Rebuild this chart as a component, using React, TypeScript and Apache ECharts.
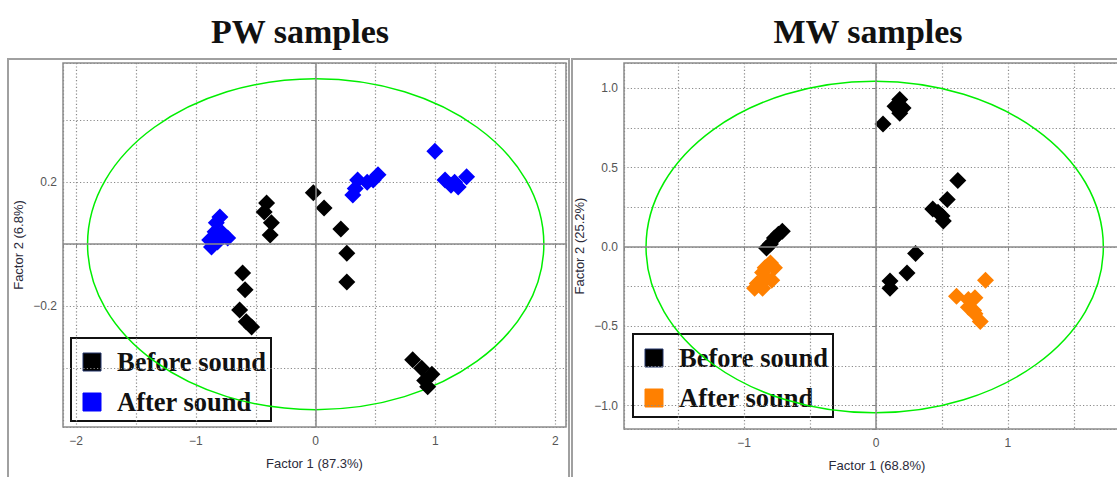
import React, { useEffect, useRef } from "react";
import * as echarts from "echarts";

// ---------- data ----------
const pwTitle = "PW samples";
const mwTitle = "MW samples";
const legendNames = ["Before sound", "After sound"];

const pwXName = "Factor 1 (87.3%)";
const pwYName = "Factor 2 (6.8%)";
const mwXName = "Factor 1 (68.8%)";
const mwYName = "Factor 2 (25.2%)";

const pwBefore: number[][] = [
  [-0.41, 0.133], [-0.43, 0.104], [-0.37, 0.069], [-0.38, 0.03],
  [-0.61, -0.093], [-0.59, -0.147], [-0.635, -0.212], [-0.58, -0.25], [-0.535, -0.267],
  [-0.02, 0.166], [0.07, 0.117], [0.21, 0.049], [0.26, -0.029], [0.26, -0.122],
  [0.81, -0.373], [0.885, -0.4], [0.97, -0.42], [0.91, -0.44], [0.935, -0.46],
];
const pwAfter: number[][] = [
  [-0.8, 0.088], [-0.83, 0.069], [-0.84, 0.04], [-0.78, 0.036], [-0.735, 0.02],
  [-0.87, -0.009], [-0.82, 0.007], [-0.885, 0.014],
  [0.31, 0.159], [0.33, 0.18], [0.35, 0.207], [0.43, 0.2], [0.48, 0.207], [0.52, 0.224],
  [0.995, 0.3], [1.08, 0.207], [1.13, 0.19], [1.16, 0.2], [1.19, 0.185], [1.26, 0.218],
];
const mwBefore: number[][] = [
  [0.18, 0.93], [0.205, 0.876], [0.144, 0.888], [0.18, 0.844], [0.053, 0.775],
  [0.62, 0.42], [0.54, 0.3], [0.43, 0.24], [0.5, 0.195], [0.51, 0.164], [0.47, 0.22],
  [0.3, -0.04], [0.235, -0.164], [0.106, -0.214], [0.106, -0.26],
  [-0.71, 0.1], [-0.74, 0.08], [-0.77, 0.057], [-0.8, 0.019], [-0.83, -0.006],
];
const mwAfter: number[][] = [
  [-0.8, -0.1], [-0.77, -0.13], [-0.84, -0.13], [-0.86, -0.16], [-0.83, -0.2],
  [-0.79, -0.21], [-0.9, -0.23], [-0.92, -0.26], [-0.86, -0.26],
  [0.83, -0.21], [0.61, -0.31], [0.7, -0.33], [0.75, -0.32], [0.7, -0.38],
  [0.74, -0.4], [0.75, -0.42], [0.79, -0.47],
];

// ellipse: [cx, cy, rx, ry]
const pwEllipse: number[][] = [[0, 0, 1.905, 0.534]];
const mwEllipse: number[][] = [[-0.01, 0, 1.733, 1.045]];

// axis extents & tick steps
const pwX = { min: -2.11, max: 2.09, step: 0.5 };
const pwY = { min: -0.59, max: 0.585, step: 0.2 };
const mwX = { min: -1.91, max: 1.925, step: 0.5 };
const mwY = { min: -1.147, max: 1.16, step: 0.25 };
const pwYLabels = [0.2, -0.2];

// ---------- styles ----------
const BLACK = "#000000";
const BLUE = "#0000ff";
const ORANGE = "#ff8000";
const GREEN = "#00ee00";
const SANS = '"Liberation Sans", Arial, sans-serif';
const SERIF = '"Liberation Serif", "Times New Roman", serif';

const minus = (s: string) => s.replace("-", "\u2212");
const isMult = (v: number, m: number) => Math.abs(v / m - Math.round(v / m)) < 1e-6;

function axisBase(ext: { min: number; max: number; step: number }, name: string, gridIndex: number, gap: number, formatter: (v: number) => string, margin: number) {
  return {
    gridIndex,
    type: "value",
    min: ext.min,
    max: ext.max,
    minInterval: ext.step,
    maxInterval: ext.step,
    splitNumber: 8,
    name,
    nameLocation: "middle",
    nameGap: gap,
    nameTextStyle: { color: "#2b2b3a", fontSize: 13, fontFamily: SANS },
    axisLine: { show: false },
    axisTick: { show: true, length: 4, lineStyle: { color: "#888", width: 1 } },
    splitLine: { show: true, lineStyle: { color: "#8a8a8a", width: 1.2, type: [1.2, 2.2] } },
    axisLabel: { color: "#555", fontSize: 12, fontFamily: SANS, margin, formatter },
  };
}

function ellipseSeries(data: number[][], idx: number) {
  return {
    type: "custom",
    xAxisIndex: idx,
    yAxisIndex: idx,
    silent: true,
    z: 1,
    data,
    renderItem: (_p: any, api: any) => {
      const c = api.coord([api.value(0), api.value(1)]);
      const s = api.size([api.value(2), api.value(3)]);
      return {
        type: "ellipse",
        shape: { cx: c[0], cy: c[1], rx: s[0], ry: s[1] },
        style: { fill: "none", stroke: GREEN, lineWidth: 1.5 },
      };
    },
    markLine: {
      silent: true,
      symbol: "none",
      label: { show: false },
      lineStyle: { color: "#8a8a8a", type: "solid", width: 1.5 },
      data: [{ xAxis: 0 }, { yAxis: 0 }],
    },
  };
}

function scatter(name: string, data: number[][], color: string, idx: number) {
  return {
    type: "scatter",
    name,
    xAxisIndex: idx,
    yAxisIndex: idx,
    symbol: "diamond",
    symbolSize: 17,
    z: 3,
    itemStyle: { color, opacity: 1 },
    data,
  };
}

function legendGroup(x: number, y: number, afterColor: string) {
  const rows = [
    { name: legendNames[0], color: BLACK, border: "#23346a" },
    { name: legendNames[1], color: afterColor, border: afterColor },
  ];
  const children: any[] = [
    { type: "rect", shape: { x: 0, y: 0, width: 200, height: 83 }, style: { fill: "#fff", stroke: "#111", lineWidth: 2 } },
  ];
  rows.forEach((r, i) => {
    const cy = 24 + i * 40;
    children.push({
      type: "rect",
      shape: { x: 12, y: cy - 9, width: 18, height: 18 },
      style: { fill: r.color, stroke: r.border, lineWidth: 1 },
    });
    children.push({
      type: "text",
      x: 46,
      y: cy,
      style: { text: r.name, fill: "#111", font: `bold 26.5px ${SERIF}`, textVerticalAlign: "middle", verticalAlign: "middle" },
    });
  });
  return { type: "group", x, y, z: 100, children };
}

const intLabel = (v: number) => (isMult(v, 1) ? minus(String(Math.round(v))) : "");

const option: any = {
  animation: false,
  backgroundColor: "#ffffff",
  grid: [
    { left: 63, top: 63, width: 503, height: 364, show: true, borderColor: "#8c8c8c", borderWidth: 1.5, backgroundColor: "transparent", containLabel: false, outerBoundsMode: "none" },
    { left: 624, top: 63, width: 506, height: 366, show: true, borderColor: "#8c8c8c", borderWidth: 1.5, backgroundColor: "transparent", containLabel: false, outerBoundsMode: "none" },
  ],
  xAxis: [
    axisBase(pwX, pwXName, 0, 30, intLabel, 8),
    axisBase(mwX, mwXName, 1, 30, intLabel, 8),
  ],
  yAxis: [
    axisBase(pwY, pwYName, 0, 38, (v: number) => (pwYLabels.some((l) => Math.abs(l - v) < 1e-6) ? minus(v.toFixed(1)) : ""), 6),
    axisBase(mwY, mwYName, 1, 38, (v: number) => (isMult(v, 0.5) ? minus(v.toFixed(1)) : ""), 6),
  ],
  series: [
    ellipseSeries(pwEllipse, 0),
    scatter(legendNames[0], pwBefore, BLACK, 0),
    scatter(legendNames[1], pwAfter, BLUE, 0),
    ellipseSeries(mwEllipse, 1),
    scatter(legendNames[0], mwBefore, BLACK, 1),
    scatter(legendNames[1], mwAfter, ORANGE, 1),
  ],
  graphic: [
    { type: "rect", z: 0, shape: { x: 8, y: 59, width: 561, height: 440 }, style: { fill: "none", stroke: "#a0a0a0", lineWidth: 2 } },
    { type: "rect", z: 0, shape: { x: 572, y: 59, width: 570, height: 440 }, style: { fill: "none", stroke: "#a0a0a0", lineWidth: 2 } },
    { type: "text", x: 300, y: 31, z: 100, style: { text: pwTitle, fill: "#111", font: `bold 34px ${SERIF}`, textAlign: "center", textVerticalAlign: "middle", align: "center", verticalAlign: "middle" } },
    { type: "text", x: 868, y: 31, z: 100, style: { text: mwTitle, fill: "#111", font: `bold 34px ${SERIF}`, textAlign: "center", textVerticalAlign: "middle", align: "center", verticalAlign: "middle" } },
    legendGroup(71, 338, BLUE),
    legendGroup(633, 334, ORANGE),
  ],
};

export default function App() {
  const ref = useRef<HTMLDivElement>(null);
  useEffect(() => {
    if (!ref.current) return;
    const chart = echarts.init(ref.current, null, { renderer: "svg" });
    chart.setOption(option);
    return () => chart.dispose();
  }, []);
  return (
    <div
      ref={ref}
      style={{ position: "fixed", left: 0, top: 0, width: 1117, height: 477, background: "#fff" }}
    />
  );
}
